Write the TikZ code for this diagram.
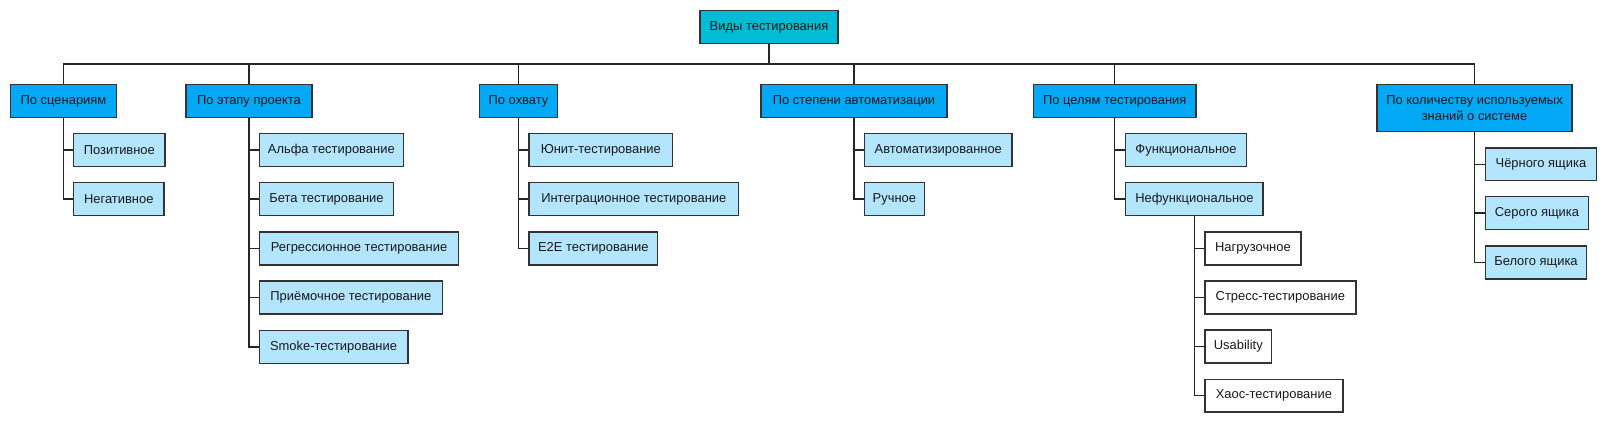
\documentclass[tikz,border=0pt]{standalone}
\usepackage{fontspec}
\setmainfont{Liberation Sans}
\usetikzlibrary{positioning}
\definecolor{rootc}{HTML}{00BCD4}
\definecolor{groupc}{HTML}{03A9F4}
\definecolor{leafc}{HTML}{B3E5FC}
\begin{document}
\begin{tikzpicture}[x=0.75pt,y=-0.75pt,font=\fontsize{9.7}{11.8}\selectfont,
  box/.style={draw=black!80,line width=1.1pt,align=center,inner xsep=5pt,
              minimum height=24.5pt,text=black!90},
  wd/.style={minimum width=#1*0.75pt-1.1pt},
  root/.style={box,fill=rootc},
  group/.style={box,fill=groupc},
  leaf/.style={box,fill=leafc,anchor=west},
  plain/.style={box,fill=white,anchor=west},
  link/.style={line width=1.1pt,black!85}]
\useasboundingbox (0,0) rectangle (1608,424);
\coordinate (bus) at (0,64);
\node[root,wd=139.5] (types) at (769,27) {Виды тестирования};
\node[group,wd=107.8] (scen)  at (63.5,101)  {По сценариям};
\node[group,wd=127.4] (stage) at (249,101)   {По этапу проекта};
\node[group,wd=79.3]  (cover) at (518.5,101) {По охвату};
\node[group,wd=187.4] (auto)  at (854,101)   {По степени автоматизации};
\node[group,wd=164]   (goal)  at (1114.7,101) {По целям тестирования};
\node[group,wd=196.2,minimum height=35.3pt] (know) at (1474.5,108.2)
  {По количеству используемых\\знаний о системе};
\foreach \g in {scen,stage,cover,auto,goal,know}
  \draw[link] (types.south) -- (types.south |- bus) -| (\g.north);
% leaves of each group
\foreach \n/\y/\w/\t in {pos/150/92.7/Позитивное, neg/199/91.6/Негативное}
  {\node[leaf,wd=\w] (\n) at (73,\y) {\t};
   \draw[link] (scen.south) |- (\n.west);}
\foreach \n/\y/\w/\t in {alpha/150/145.4/Альфа тестирование, beta/199/135.7/Бета тестирование,
                      regr/248.5/200.8/Регрессионное тестирование,
                      accept/297.5/184.6/Приёмочное тестирование,
                      smoke/347/149.9/Smoke-тестирование}
  {\node[leaf,wd=\w] (\n) at (258.6,\y) {\t};
   \draw[link] (stage.south) |- (\n.west);}
\foreach \n/\y/\w/\t in {unit/150/145/Юнит-тестирование,
                      integ/199/211/Интеграционное тестирование,
                      etoe/248.5/130/E2E тестирование}
  {\node[leaf,wd=\w] (\n) at (528.3,\y) {\t};
   \draw[link] (cover.south) |- (\n.west);}
\foreach \n/\y/\w/\t in {autom/150/149.2/Автоматизированное, manual/199/61.3/Ручное}
  {\node[leaf,wd=\w] (\n) at (863.7,\y) {\t};
   \draw[link] (auto.south) |- (\n.west);}
\foreach \n/\y/\w/\t in {func/150/122/Функциональное, nonfunc/199/138.9/Нефункциональное}
  {\node[leaf,wd=\w] (\n) at (1125,\y) {\t};
   \draw[link] (goal.south) |- (\n.west);}
\foreach \n/\y/\w/\t in {load/248.5/97.4/Нагрузочное, stress/297.5/152.3/Стресс-тестирование,
                      usab/346.5/68.2/Usability, chaos/395.7/139.3/Хаос-тестирование}
  {\node[plain,wd=\w] (\n) at (1204.2,\y) {\t};
   \draw[link] (nonfunc.south) |- (\n.west);}
\foreach \n/\y/\w/\t in {black/164.3/112.8/Чёрного ящика, grey/213/104.9/Серого ящика,
                      white/262.5/102.9/Белого ящика}
  {\node[leaf,wd=\w] (\n) at (1484.5,\y) {\t};
   \draw[link] (know.south) |- (\n.west);}
\end{tikzpicture}
\end{document}
